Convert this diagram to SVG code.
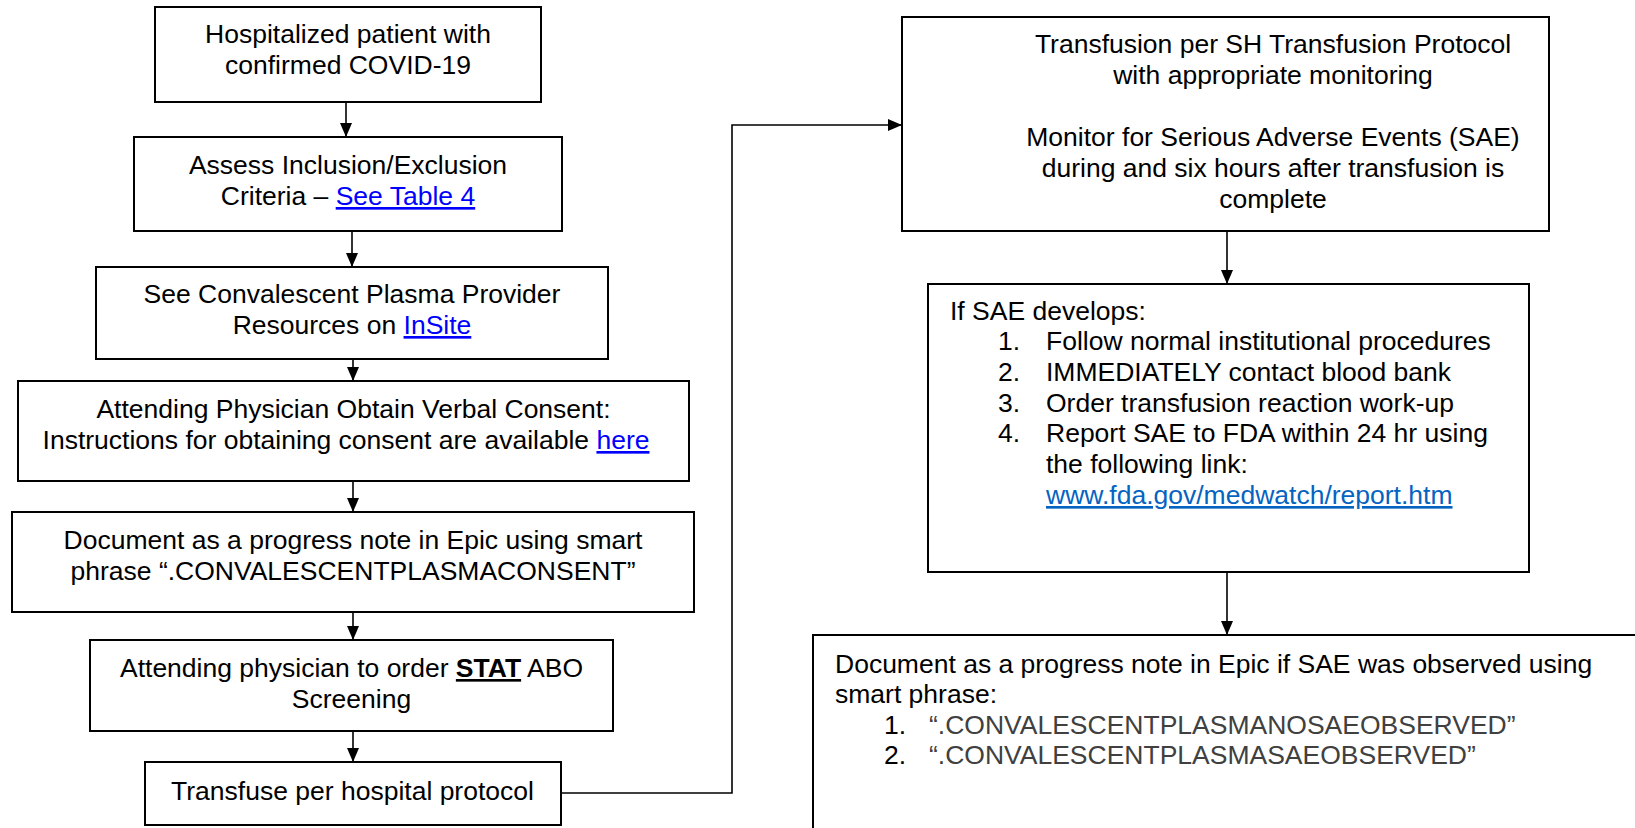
<svg xmlns="http://www.w3.org/2000/svg" width="1635" height="828" viewBox="0 0 1635 828">
<style>
text{font-family:"Liberation Sans",Arial,sans-serif;font-size:26.5px;fill:#000}
.c{text-anchor:middle}
.box{fill:#fff;stroke:#000;stroke-width:2}
.conn{fill:none;stroke:#000;stroke-width:1.6}
.lk{fill:#0000FF;text-decoration:underline}
.lk2{fill:#0563C1;text-decoration:underline}
.g{fill:#404040}
</style>
<defs>
<marker id="ah" markerWidth="14" markerHeight="12" refX="13" refY="6" orient="auto" markerUnits="userSpaceOnUse">
<path d="M0,0 L14,6 L0,12 Z" fill="#000"/>
</marker>
</defs>
<rect width="1635" height="828" fill="#fff"/>
<g id="connectors">
<line class="conn" x1="346" y1="102" x2="346" y2="136" marker-end="url(#ah)"/>
<line class="conn" x1="352" y1="231" x2="352" y2="266" marker-end="url(#ah)"/>
<line class="conn" x1="353" y1="359" x2="353" y2="380" marker-end="url(#ah)"/>
<line class="conn" x1="353" y1="481" x2="353" y2="511" marker-end="url(#ah)"/>
<line class="conn" x1="353" y1="612" x2="353" y2="639" marker-end="url(#ah)"/>
<line class="conn" x1="353" y1="731" x2="353" y2="761" marker-end="url(#ah)"/>
<polyline class="conn" points="561,793 732,793 732,125 901,125" marker-end="url(#ah)"/>
<line class="conn" x1="1227" y1="231" x2="1227" y2="283" marker-end="url(#ah)"/>
<line class="conn" x1="1227" y1="572" x2="1227" y2="634" marker-end="url(#ah)"/>
</g>
<g id="n1">
<rect class="box" x="155" y="7" width="386" height="95"/>
<text class="c" x="348" y="43">Hospitalized patient with</text>
<text class="c" x="348" y="74">confirmed COVID-19</text>
</g>
<g id="n2">
<rect class="box" x="134" y="137" width="428" height="94"/>
<text class="c" x="348" y="174">Assess Inclusion/Exclusion</text>
<text class="c" x="348" y="205">Criteria – <tspan class="lk">See Table 4</tspan></text>
</g>
<g id="n3">
<rect class="box" x="96" y="267" width="512" height="92"/>
<text class="c" x="352" y="303">See Convalescent Plasma Provider</text>
<text class="c" x="352" y="334">Resources on <tspan class="lk">InSite</tspan></text>
</g>
<g id="n4">
<rect class="box" x="18" y="381" width="671" height="100"/>
<text class="c" x="353.5" y="418">Attending Physician Obtain Verbal Consent:</text>
<text class="c" x="346" y="449">Instructions for obtaining consent are available <tspan class="lk">here</tspan></text>
</g>
<g id="n5">
<rect class="box" x="12" y="512" width="682" height="100"/>
<text class="c" x="353" y="549">Document as a progress note in Epic using smart</text>
<text class="c" x="353" y="580">phrase “.CONVALESCENTPLASMACONSENT”</text>
</g>
<g id="n6">
<rect class="box" x="90" y="640" width="523" height="91"/>
<text class="c" x="351.5" y="677">Attending physician to order <tspan font-weight="bold" text-decoration="underline">STAT</tspan> ABO</text>
<text class="c" x="351.5" y="708">Screening</text>
</g>
<g id="n7">
<rect class="box" x="145" y="762" width="416" height="63"/>
<text class="c" x="352.5" y="800">Transfuse per hospital protocol</text>
</g>
<g id="n8">
<rect class="box" x="902" y="17" width="647" height="214"/>
<text class="c" x="1273" y="53">Transfusion per SH Transfusion Protocol</text>
<text class="c" x="1273" y="84">with appropriate monitoring</text>
<text class="c" x="1273" y="146">Monitor for Serious Adverse Events (SAE)</text>
<text class="c" x="1273" y="177">during and six hours after transfusion is</text>
<text class="c" x="1273" y="208">complete</text>
</g>
<g id="n9">
<rect class="box" x="928" y="284" width="601" height="288"/>
<text x="950" y="320">If SAE develops:</text>
<text x="998" y="350">1.</text><text x="1046" y="350">Follow normal institutional procedures</text>
<text x="998" y="381">2.</text><text x="1046" y="381">IMMEDIATELY contact blood bank</text>
<text x="998" y="412">3.</text><text x="1046" y="412">Order transfusion reaction work-up</text>
<text x="998" y="442">4.</text><text x="1046" y="442">Report SAE to FDA within 24 hr using</text>
<text x="1046" y="473">the following link:</text>
<text class="lk2" x="1046" y="504">www.fda.gov/medwatch/report.htm</text>
</g>
<g id="n10">
<path d="M813,830 V635 H1635" fill="#fff" stroke="#000" stroke-width="2"/>
<text x="835" y="673">Document as a progress note in Epic if SAE was observed using</text>
<text x="835" y="703">smart phrase:</text>
<text x="884" y="734">1.</text><text class="g" x="929" y="734">“.CONVALESCENTPLASMANOSAEOBSERVED”</text>
<text x="884" y="764">2.</text><text class="g" x="929" y="764">“.CONVALESCENTPLASMASAEOBSERVED”</text>
</g>
</svg>
